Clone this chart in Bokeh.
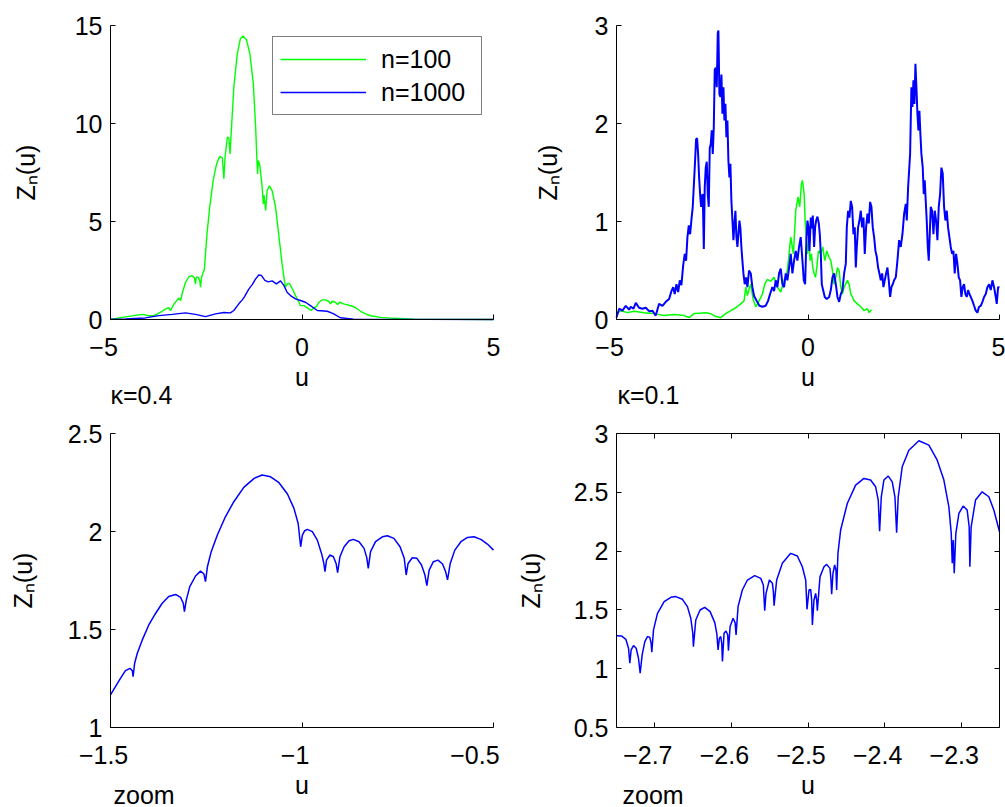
from bokeh.plotting import figure
from bokeh.layouts import column, row
from bokeh.models import Range1d, Legend, LegendItem, Label, LinearAxis, FixedTicker
from bokeh.embed import file_html
from bokeh.resources import INLINE

# ---------------- data ----------------
tl_u_n100 = [-5.0, -4.65, -4.39, -4.17, -4.0, -3.87, -3.69, -3.56, -3.48, -3.43,
             -3.35, -3.22, -3.17, -3.13, -3.04, -2.95, -2.87, -2.81, -2.78, -2.76,
             -2.71, -2.67, -2.65, -2.62, -2.58, -2.55, -2.52, -2.48, -2.41, -2.32,
             -2.23, -2.15, -2.08, -2.04, -2.01, -1.95, -1.91, -1.88, -1.85, -1.78,
             -1.69, -1.61, -1.54, -1.45, -1.36, -1.27, -1.21, -1.18, -1.16, -1.14,
             -1.10, -1.04, -1.01, -0.99, -0.95, -0.91, -0.85, -0.78, -0.69, -0.60,
             -0.52, -0.46, -0.43, -0.37, -0.32, -0.23, -0.14, -0.08, -0.04, 0.05,
             0.18, 0.24, 0.31, 0.38, 0.44, 0.53, 0.61, 0.70, 0.74, 0.79,
             0.87, 0.93, 0.98, 1.09, 1.18, 1.27, 1.40, 1.53, 1.66, 1.79,
             2.05, 2.40, 2.92, 5.0]
tl_z_n100 = [0.0, 0.12, 0.2, 0.26, 0.19, 0.19, 0.37, 0.54, 0.6, 0.46,
             0.77, 1.09, 0.97, 1.31, 1.9, 2.19, 2.23, 2.13, 1.82, 2.16,
             2.16, 1.99, 1.65, 2.16, 2.41, 2.53, 3.35, 4.37, 5.73, 7.09,
             7.94, 8.32, 8.25, 7.18, 8.28, 9.3, 9.27, 8.45, 9.47, 11.85,
             13.55, 14.32, 14.46, 14.27, 13.55, 12.02, 9.81, 8.28, 7.43, 8.11,
             7.86, 6.75, 5.9, 6.33, 5.56, 6.58, 6.82, 6.58, 5.73, 4.2,
             2.84, 1.99, 1.65, 1.85, 1.82, 1.48, 1.1, 0.88, 0.71, 0.71,
             0.54, 0.46, 0.6, 0.66, 0.88, 1.0, 1.0, 0.93, 0.8, 0.93,
             0.88, 0.76, 0.88, 0.80, 0.75, 0.71, 0.6, 0.42, 0.29, 0.19,
             0.11, 0.06, 0.02, 0.0]
tl_u_n1000 = [-5.0, -4.61, -4.09, -3.74, -3.39, -3.04, -2.78, -2.52, -2.26, -2.04,
              -1.87, -1.78, -1.65, -1.56, -1.5, -1.39, -1.30, -1.21, -1.13, -1.06,
              -0.97, -0.88, -0.78, -0.67, -0.56, -0.47, -0.39, -0.30, -0.17, -0.04,
              0.09, 0.22, 0.40, 0.66, 0.83, 1.00, 1.35, 5.0]
tl_z_n1000 = [0.02, 0.03, 0.08, 0.2, 0.26, 0.34, 0.26, 0.15, 0.29, 0.36,
              0.34, 0.46, 0.80, 1.0, 1.17, 1.55, 1.78, 2.07, 2.27, 2.25,
              2.0, 1.92, 1.97, 1.82, 1.97, 1.73, 1.39, 1.22, 1.05, 0.97,
              0.88, 0.71, 0.46, 0.42, 0.29, 0.09, 0.02, 0.0]

tr_u_n100 = [-5.0, -4.888, -4.714, -4.54, -4.279, -4.018, -3.757, -3.496, -3.235, -3.105,
             -2.974, -2.843, -2.67, -2.539, -2.409, -2.278, -2.148, -2.017, -1.886, -1.756,
             -1.669, -1.625, -1.582, -1.54, -1.495, -1.434, -1.364, -1.277, -1.19, -1.13,
             -1.06, -0.973, -0.886, -0.80, -0.712, -0.625, -0.538, -0.451, -0.381, -0.32,
             -0.26, -0.216, -0.172, -0.145, -0.101, -0.075, -0.049, -0.014, 0.021, 0.056,
             0.09, 0.125, 0.16, 0.195, 0.23, 0.273, 0.334, 0.386, 0.438, 0.49,
             0.543, 0.595, 0.639, 0.682, 0.726, 0.769, 0.813, 0.856, 0.90, 0.943,
             1.03, 1.074, 1.117, 1.161, 1.204, 1.291, 1.378, 1.465, 1.552, 1.596,
             1.656]
tr_z_n100 = [0.06, 0.09, 0.07, 0.085, 0.07, 0.06, 0.04, 0.05, 0.04, 0.02,
             0.06, 0.065, 0.07, 0.06, 0.03, 0.02, 0.06, 0.09, 0.12, 0.16,
             0.19, 0.33, 0.245, 0.31, 0.36, 0.21, 0.13, 0.19, 0.26, 0.36,
             0.41, 0.39, 0.43, 0.33, 0.28, 0.40, 0.50, 0.84, 0.67, 1.11,
             1.25, 1.15, 1.38, 1.42, 1.28, 1.01, 0.87, 0.67, 0.81, 0.60,
             0.67, 0.53, 0.47, 0.43, 0.53, 0.70, 0.67, 0.74, 0.60, 0.70,
             0.64, 0.60, 0.50, 0.36, 0.43, 0.53, 0.50, 0.33, 0.26, 0.33,
             0.40, 0.36, 0.26, 0.23, 0.19, 0.16, 0.13, 0.09, 0.11, 0.07,
             0.10]
tr_u_n1000 = [-5.0, -4.93, -4.845, -4.757, -4.67, -4.627, -4.557, -4.496, -4.41, -4.323,
              -4.235, -4.15, -4.06, -3.975, -3.888, -3.80, -3.713, -3.626, -3.565, -3.52,
              -3.48, -3.435, -3.39, -3.348, -3.305, -3.26, -3.218, -3.183, -3.148, -3.113,
              -3.078, -3.043, -3.009, -2.974, -2.948, -2.922, -2.896, -2.869, -2.843, -2.817,
              -2.791, -2.774, -2.748, -2.72, -2.696, -2.67, -2.643, -2.617, -2.591, -2.565,
              -2.539, -2.513, -2.487, -2.46, -2.435, -2.409, -2.382, -2.356, -2.339, -2.313,
              -2.287, -2.26, -2.235, -2.208, -2.182, -2.156, -2.13, -2.104, -2.078, -2.052,
              -2.026, -2.0, -1.973, -1.947, -1.921, -1.895, -1.869, -1.843, -1.817, -1.79,
              -1.765, -1.739, -1.713, -1.686, -1.652, -1.617, -1.582, -1.54, -1.495, -1.452,
              -1.408, -1.34, -1.269, -1.19, -1.105, -1.043, -0.99, -0.93, -0.886, -0.842,
              -0.80, -0.755, -0.712, -0.668, -0.625, -0.58, -0.538, -0.494, -0.451, -0.407,
              -0.364, -0.32, -0.277, -0.234, -0.19, -0.145, -0.11, -0.075, -0.04, -0.014,
              0.012, 0.038, 0.073, 0.099, 0.125, 0.16, 0.186, 0.212, 0.247, 0.282,
              0.308, 0.334, 0.36, 0.395, 0.438, 0.49, 0.552, 0.595, 0.639, 0.682,
              0.726, 0.769, 0.813, 0.856, 0.90, 0.943, 0.987, 1.013, 1.047, 1.082,
              1.117, 1.152, 1.187, 1.221, 1.248, 1.274, 1.308, 1.343, 1.378, 1.413,
              1.448, 1.482, 1.517, 1.552, 1.587, 1.622, 1.656, 1.691, 1.726, 1.761,
              1.796, 1.83, 1.865, 1.90, 1.935, 1.97, 2.004, 2.039, 2.074, 2.109,
              2.144, 2.178, 2.213, 2.248, 2.292, 2.335, 2.379, 2.422, 2.466, 2.51,
              2.553, 2.579, 2.614, 2.64, 2.666, 2.70, 2.727, 2.753, 2.779, 2.805,
              2.831, 2.857, 2.883, 2.909, 2.935, 2.961, 2.996, 3.022, 3.048, 3.074,
              3.10, 3.127, 3.153, 3.179, 3.205, 3.24, 3.275, 3.31, 3.344, 3.379,
              3.414, 3.449, 3.483, 3.518, 3.553, 3.588, 3.623, 3.657, 3.692, 3.727,
              3.762, 3.797, 3.831, 3.866, 3.901, 3.936, 3.971, 4.005, 4.04, 4.075,
              4.11, 4.145, 4.18, 4.214, 4.249, 4.293, 4.336, 4.38, 4.423, 4.467,
              4.51, 4.554, 4.597, 4.641, 4.684, 4.728, 4.771, 4.815, 4.858, 4.902,
              4.928, 4.963, 5.0]
tr_z_n1000 = [0.02, 0.11, 0.09, 0.14, 0.10, 0.13, 0.11, 0.17, 0.12, 0.11,
              0.12, 0.085, 0.09, 0.04, 0.16, 0.14, 0.18, 0.21, 0.29, 0.33,
              0.26, 0.36, 0.28, 0.40, 0.35, 0.55, 0.67, 0.60, 0.84, 0.96,
              0.87, 1.02, 1.15, 1.42, 1.62, 1.84, 1.85, 1.69, 1.45, 1.28,
              1.15, 1.25, 1.28, 0.72, 1.35, 1.55, 1.61, 1.28, 1.15, 1.75,
              1.79, 1.93, 1.69, 1.96, 2.55, 2.57, 2.37, 2.92, 2.95, 2.3,
              2.27, 2.50, 2.10, 2.37, 2.03, 2.20, 1.86, 2.03, 1.62, 1.45,
              1.59, 1.21, 1.01, 0.81, 0.98, 1.11, 0.84, 0.74, 0.87, 1.01,
              0.93, 0.74, 0.60, 0.47, 0.36, 0.43, 0.33, 0.50, 0.47, 0.33,
              0.24, 0.19, 0.14, 0.13, 0.14, 0.19, 0.26, 0.33, 0.29, 0.40,
              0.33, 0.47, 0.52, 0.36, 0.33, 0.47, 0.40, 0.53, 0.67, 0.47,
              0.60, 0.70, 0.60, 0.74, 0.84, 0.60, 0.40, 0.36, 0.84, 1.01,
              0.94, 0.70, 1.04, 0.93, 1.06, 0.74, 0.94, 1.01, 1.05, 0.98,
              0.87, 0.67, 0.36, 0.30, 0.23, 0.21, 0.23, 0.30, 0.43, 0.47,
              0.36, 0.23, 0.18, 0.26, 0.30, 0.47, 0.57, 0.94, 1.11, 1.04,
              1.21, 1.15, 0.87, 0.94, 0.53, 0.74, 0.94, 1.01, 1.11, 0.94,
              1.04, 0.67, 0.94, 1.08, 0.98, 1.20, 1.15, 0.94, 0.84, 0.70,
              0.64, 0.53, 0.47, 0.40, 0.47, 0.33, 0.40, 0.47, 0.53, 0.40,
              0.23, 0.33, 0.36, 0.40, 0.43, 0.60, 0.81, 0.74, 0.87, 1.08,
              1.18, 1.01, 1.35, 1.52, 1.69, 2.37, 2.17, 2.44, 2.20, 2.61,
              2.37, 2.10, 1.93, 2.13, 1.89, 1.69, 1.55, 1.28, 1.42, 1.21,
              1.01, 0.74, 0.60, 0.87, 1.15, 1.11, 0.87, 1.11, 1.01, 0.81,
              1.15, 1.28, 1.55, 1.49, 1.15, 1.01, 1.11, 0.94, 0.84, 0.74,
              0.67, 0.70, 0.47, 0.67, 0.57, 0.43, 0.40, 0.23, 0.33, 0.36,
              0.26, 0.23, 0.30, 0.26, 0.23, 0.19, 0.14, 0.09, 0.07, 0.13,
              0.14, 0.18, 0.23, 0.26, 0.33, 0.36, 0.30, 0.40, 0.33, 0.23,
              0.16, 0.33, 0.33]

bl_u = [-1.5, -1.487, -1.474, -1.461, -1.449, -1.443, -1.441, -1.437, -1.430, -1.417,
        -1.400, -1.382, -1.365, -1.348, -1.330, -1.317, -1.310, -1.307, -1.302, -1.293,
        -1.278, -1.265, -1.256, -1.252, -1.247, -1.237, -1.221, -1.200, -1.178, -1.152,
        -1.125, -1.104, -1.082, -1.060, -1.038, -1.021, -1.010, -1.0035, -0.999, -0.993,
        -0.986, -0.973, -0.960, -0.949, -0.943, -0.940, -0.936, -0.927, -0.918, -0.911,
        -0.907, -0.901, -0.890, -0.877, -0.866, -0.851, -0.838, -0.831, -0.827, -0.821,
        -0.808, -0.790, -0.777, -0.760, -0.744, -0.733, -0.728, -0.723, -0.712, -0.700,
        -0.688, -0.679, -0.674, -0.668, -0.657, -0.645, -0.633, -0.625, -0.620, -0.613,
        -0.601, -0.585, -0.568, -0.551, -0.533, -0.516, -0.500]
bl_z = [1.166, 1.209, 1.251, 1.290, 1.302, 1.29, 1.26, 1.328, 1.379, 1.447,
        1.523, 1.583, 1.634, 1.668, 1.679, 1.664, 1.634, 1.591, 1.651, 1.719,
        1.773, 1.798, 1.783, 1.744, 1.820, 1.897, 1.982, 2.075, 2.152, 2.225,
        2.271, 2.288, 2.279, 2.249, 2.191, 2.118, 2.041, 1.922, 1.982, 2.004,
        2.011, 1.999, 1.956, 1.888, 1.837, 1.795, 1.854, 1.880, 1.871, 1.837,
        1.790, 1.871, 1.922, 1.953, 1.960, 1.948, 1.914, 1.868, 1.812, 1.897,
        1.948, 1.973, 1.978, 1.965, 1.922, 1.863, 1.778, 1.837, 1.866, 1.863,
        1.829, 1.778, 1.724, 1.803, 1.846, 1.854, 1.834, 1.795, 1.753, 1.837,
        1.905, 1.948, 1.970, 1.973, 1.960, 1.936, 1.905]

br_u = [-2.75, -2.7435, -2.7378, -2.7343, -2.7326, -2.7309, -2.7278, -2.7243, -2.7213, -2.7191,
        -2.7165, -2.7130, -2.7096, -2.7065, -2.7048, -2.7039, -2.7017, -2.6965, -2.6878, -2.6791,
        -2.6726, -2.6639, -2.6574, -2.6530, -2.6504, -2.6496, -2.6465, -2.6409, -2.6348, -2.6278,
        -2.6217, -2.6191, -2.6174, -2.6157, -2.6139, -2.6126, -2.6117, -2.6096, -2.6070, -2.6048,
        -2.6039, -2.6017, -2.5978, -2.5952, -2.5939, -2.5913, -2.5857, -2.5791, -2.5696, -2.5617,
        -2.5583, -2.5565, -2.5548, -2.5504, -2.5465, -2.5452, -2.5443, -2.5409, -2.5335, -2.5226,
        -2.5139, -2.5074, -2.5030, -2.5013, -2.4987, -2.4965, -2.4952, -2.4943, -2.4922, -2.4900,
        -2.4887, -2.4878, -2.4843, -2.4791, -2.4757, -2.4713, -2.4700, -2.4691, -2.4674, -2.4652,
        -2.4635, -2.4626, -2.4609, -2.4574, -2.4487, -2.4378, -2.4270, -2.4183, -2.4117, -2.4083,
        -2.4065, -2.4043, -2.4009, -2.3952, -2.3900, -2.3865, -2.3843, -2.3822, -2.3770, -2.3683,
        -2.3552, -2.3422, -2.3313, -2.3226, -2.3161, -2.3130, -2.3117, -2.3104, -2.3091, -2.3070,
        -2.3030, -2.2974, -2.2922, -2.2896, -2.2887, -2.2870, -2.2813, -2.2726, -2.2639, -2.2574,
        -2.2500]
br_z = [1.281, 1.279, 1.250, 1.174, 1.046, 1.160, 1.197, 1.174, 1.089, 0.961,
        1.117, 1.230, 1.273, 1.267, 1.216, 1.140, 1.330, 1.471, 1.570, 1.607,
        1.613, 1.590, 1.528, 1.429, 1.301, 1.188, 1.414, 1.499, 1.522, 1.485,
        1.392, 1.301, 1.160, 1.259, 1.273, 1.216, 1.061, 1.301, 1.321, 1.287,
        1.154, 1.358, 1.429, 1.392, 1.287, 1.528, 1.669, 1.754, 1.791, 1.768,
        1.712, 1.494, 1.641, 1.754, 1.726, 1.655, 1.536, 1.754, 1.896, 1.981,
        1.958, 1.867, 1.754, 1.505, 1.669, 1.675, 1.584, 1.372, 1.584, 1.641,
        1.584, 1.494, 1.783, 1.867, 1.887, 1.853, 1.754, 1.633, 1.811, 1.882,
        1.839, 1.669, 1.981, 2.179, 2.405, 2.561, 2.618, 2.604, 2.547, 2.434,
        2.170, 2.462, 2.604, 2.638, 2.589, 2.462, 2.156, 2.462, 2.717, 2.858,
        2.938, 2.901, 2.773, 2.604, 2.377, 2.151, 1.896, 2.094, 1.811, 2.151,
        2.321, 2.383, 2.349, 2.207, 1.867, 2.207, 2.434, 2.504, 2.462, 2.349,
        2.165]

# tick values and labels (negative labels get two trailing no-break spaces so the
# digits, not the minus sign, sit under the tick as in the original)
NB = "\u00a0\u00a0"
tl_xticks = [-5, 0, 5]
tl_xlabels = ["\u22125" + NB, "0", "5"]
tl_yticks = [0, 5, 10, 15]
tl_ylabels = ["0", "5", "10", "15"]
tr_yticks = [0, 1, 2, 3]
tr_ylabels = ["0", "1", "2", "3"]
bl_xticks = [-1.5, -1, -0.5]
bl_xlabels = ["\u22121.5" + NB, "\u22121" + NB, "\u22120.5" + NB]
bl_yticks = [1, 1.5, 2, 2.5]
bl_ylabels = ["1", "1.5", "2", "2.5"]
br_xticks = [-2.7, -2.6, -2.5, -2.4, -2.3]
br_xlabels = ["\u22122.7" + NB, "\u22122.6" + NB, "\u22122.5" + NB, "\u22122.4" + NB, "\u22122.3" + NB]
br_yticks = [0.5, 1, 1.5, 2, 2.5, 3]
br_ylabels = ["0.5", "1", "1.5", "2", "2.5", "3"]
series_labels = ["n=100", "n=1000"]

# ---------------- styling ----------------
FONT = "Liberation Sans"
FS = "25px"
GREEN = "#00ff00"
BLUE = "#0000ff"
FRAME_W = 383      # data box width, px
FRAME_H = 294      # data box height, px
TOP_PAD = 25       # px above each data box
YLABEL = "Z\u2099(u)"
XLABEL_STANDOFF = -1

TOP_H = 408
BOT_H = 399
LEFT_W = 513
RIGHT_W = 492


def make_fig(width, height, left, xr, yr):
    """Whole canvas is the plotting frame; the data box (xr, yr) is placed at
    (left, TOP_PAD) and the axes are pinned to its edges."""
    right = width - left - FRAME_W
    bottom = height - TOP_PAD - FRAME_H
    sx = (xr[1] - xr[0]) / FRAME_W
    sy = (yr[1] - yr[0]) / FRAME_H
    p = figure(width=width, height=height,
               x_range=Range1d(xr[0] - left * sx, xr[1] + right * sx),
               y_range=Range1d(yr[0] - bottom * sy, yr[1] + TOP_PAD * sy),
               output_backend="svg", toolbar_location=None, title=None,
               min_border_left=0, min_border_right=0, min_border_top=0, min_border_bottom=0)
    p.xgrid.visible = False
    p.ygrid.visible = False
    p.outline_line_color = None
    p.background_fill_color = "white"
    p.border_fill_color = "white"
    p.xaxis[0].fixed_location = yr[0]
    p.xaxis[0].bounds = xr
    p.yaxis[0].fixed_location = xr[0]
    p.yaxis[0].bounds = yr
    return p, sx, sy


def style_axis(ax, ticks, labels, label, tick_standoff, label_standoff):
    ax.ticker = FixedTicker(ticks=ticks)
    ax.major_label_overrides = dict(zip(ticks, labels))
    ax.minor_tick_line_color = None
    ax.major_tick_in = 5
    ax.major_tick_out = 0
    ax.axis_line_color = "black"
    ax.axis_line_width = 1
    ax.major_tick_line_color = "black"
    ax.major_label_text_font = FONT
    ax.major_label_text_font_size = FS
    ax.major_label_text_color = "black"
    ax.major_label_standoff = tick_standoff
    ax.axis_label = label
    ax.axis_label_text_font = FONT
    ax.axis_label_text_font_size = FS
    ax.axis_label_text_font_style = "normal"
    ax.axis_label_text_color = "black"
    ax.axis_label_standoff = label_standoff


def add_text(p, text, x0, y0, sx, sy, px_right, px_below):
    p.add_layout(Label(x=x0 + px_right * sx, y=y0 - px_below * sy, x_units="data", y_units="data",
                       text=text, text_font=FONT, text_font_size=FS, text_color="black",
                       text_align="left", text_baseline="middle"))


# top-left
p1, sx1, sy1 = make_fig(LEFT_W, TOP_H, 110, (-5, 5), (0, 15))
style_axis(p1.xaxis[0], tl_xticks, tl_xlabels, "u", 13, XLABEL_STANDOFF)
style_axis(p1.yaxis[0], tl_yticks, tl_ylabels, YLABEL, 8, 32)
r_g = p1.line(tl_u_n100, tl_z_n100, line_color=GREEN, line_width=1.4)
r_b = p1.line(tl_u_n1000, tl_z_n1000, line_color=BLUE, line_width=1.4)
legend = Legend(items=[LegendItem(label=series_labels[0], renderers=[r_g]),
                       LegendItem(label=series_labels[1], renderers=[r_b])],
                location=(272, 293), orientation="vertical",
                border_line_color="black", border_line_width=1.5,
                background_fill_color="white", background_fill_alpha=1.0,
                label_text_font=FONT, label_text_font_size=FS, label_text_color="black",
                glyph_width=86, glyph_height=30, label_height=30, label_width=93,
                label_standoff=15, padding=7, spacing=3, margin=0)
p1.add_layout(legend)
add_text(p1, "\u03ba=0.4", -5, 0, sx1, sy1, 0, 75)

# top-right
p2, sx2, sy2 = make_fig(RIGHT_W, TOP_H, 103, (-5, 5), (0, 3))
style_axis(p2.xaxis[0], tl_xticks, tl_xlabels, "u", 13, XLABEL_STANDOFF)
style_axis(p2.yaxis[0], tr_yticks, tr_ylabels, YLABEL, 8, 30)
p2.line(tr_u_n100, tr_z_n100, line_color=GREEN, line_width=1.5)
p2.line(tr_u_n1000, tr_z_n1000, line_color=BLUE, line_width=2.0)
add_text(p2, "\u03ba=0.1", -5, 0, sx2, sy2, 1, 75)

# bottom-left
p3, sx3, sy3 = make_fig(LEFT_W, BOT_H, 110, (-1.5, -0.5), (1, 2.5))
style_axis(p3.xaxis[0], bl_xticks, bl_xlabels, "u", 13, XLABEL_STANDOFF)
style_axis(p3.yaxis[0], bl_yticks, bl_ylabels, YLABEL, 8, 28)
p3.line(bl_u, bl_z, line_color=BLUE, line_width=1.5)
add_text(p3, "zoom", -1.5, 1, sx3, sy3, 3, 67)

# bottom-right (boxed)
p4, sx4, sy4 = make_fig(RIGHT_W, BOT_H, 103, (-2.75, -2.25), (0.5, 3))
style_axis(p4.xaxis[0], br_xticks, br_xlabels, "u", 13, XLABEL_STANDOFF)
style_axis(p4.yaxis[0], br_yticks, br_ylabels, YLABEL, 8, 26)
for loc, ticks, fixed, bounds in (("above", br_xticks, 3, (-2.75, -2.25)),
                                  ("right", br_yticks, -2.25, (0.5, 3))):
    ax = LinearAxis(ticker=FixedTicker(ticks=ticks), major_label_text_font_size="0px",
                    major_label_text_color=None, major_tick_in=5, major_tick_out=0,
                    major_label_standoff=0, minor_tick_line_color=None,
                    axis_line_color="black", major_tick_line_color="black",
                    fixed_location=fixed, bounds=bounds)
    p4.add_layout(ax, loc)
p4.line(br_u, br_z, line_color=BLUE, line_width=1.5)
add_text(p4, "zoom", -2.75, 0.5, sx4, sy4, 6, 67)

layout = column(row(p1, p2), row(p3, p4))
open("out.html", "w").write(file_html(layout, INLINE))
